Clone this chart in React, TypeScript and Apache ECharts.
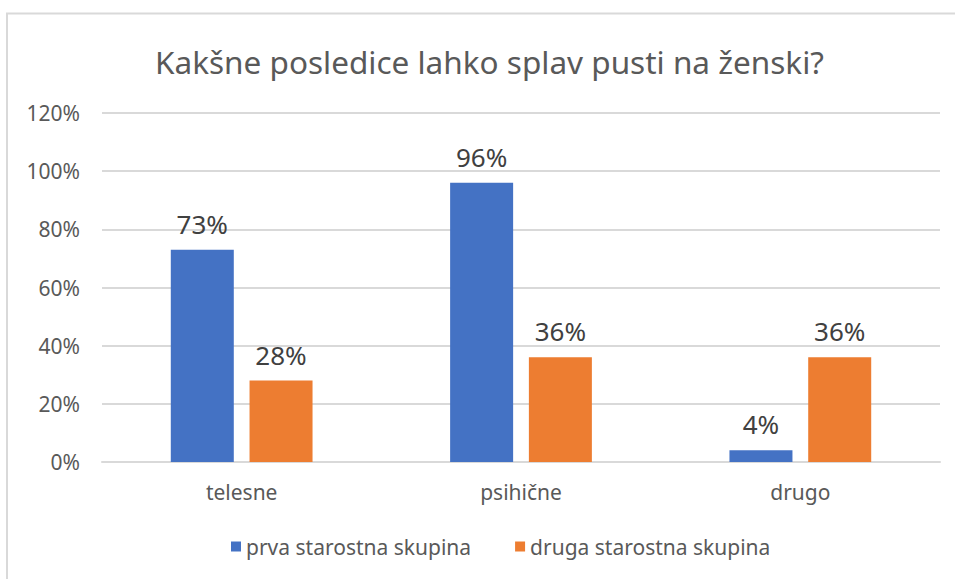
import React, { useEffect, useRef } from "react";
import * as echarts from "echarts";

const TITLE = "Kakšne posledice lahko splav pusti na ženski?";
const CATEGORIES = ["telesne", "psihične", "drugo"];
const SERIES_NAMES = ["prva starostna skupina", "druga starostna skupina"];
const PRVA = [73, 96, 4];
const DRUGA = [28, 36, 36];
const COLORS = ["#4472C4", "#ED7D31"];

export default function App() {
  const ref = useRef<HTMLDivElement>(null);
  useEffect(() => {
    document.body.style.margin = "0";
    const chart = echarts.init(ref.current!, undefined, { renderer: "svg" });
    const font = "Noto Sans";
    const labelCfg = {
      show: true,
      position: "top",
      distance: 13,
      formatter: "{c}%",
      color: "#404040",
      fontSize: 26,
      fontFamily: font,
    };
    chart.setOption({
      animation: false,
      backgroundColor: "#ffffff",
      graphic: [
        {
          type: "rect",
          shape: { x: 7, y: 13.5, width: 2000, height: 2000 },
          style: { fill: "none", stroke: "#d9d9d9", lineWidth: 2 },
          silent: true,
        },
      ],
      title: {
        text: TITLE,
        left: 150,
        top: 40,
        textStyle: {
          color: "#595959",
          fontSize: 31.5,
          fontWeight: "normal",
          fontFamily: font,
        },
      },
      legend: {
        bottom: 17,
        left: 226,
        itemWidth: 10,
        itemHeight: 10,
        itemGap: 44,
        icon: "rect",
        textStyle: { color: "#595959", fontSize: 21, fontFamily: font },
        data: SERIES_NAMES,
      },
      grid: { left: 102, right: 15, top: 113, bottom: 117, containLabel: false },
      xAxis: {
        type: "category",
        data: CATEGORIES,
        axisLine: { show: true, lineStyle: { color: "#d9d9d9", width: 2 } },
        axisTick: { show: false },
        axisLabel: {
          color: "#595959",
          fontSize: 21,
          fontFamily: font,
          margin: 19,
        },
      },
      yAxis: {
        type: "value",
        min: 0,
        max: 120,
        interval: 20,
        axisLine: { show: false },
        axisTick: { show: false },
        splitLine: { lineStyle: { color: "#d9d9d9", width: 2 } },
        axisLabel: {
          formatter: "{value}%",
          color: "#595959",
          fontSize: 21,
          fontFamily: font,
          margin: 22,
        },
      },
      series: [
        {
          name: SERIES_NAMES[0],
          type: "bar",
          data: PRVA,
          barWidth: 63,
          barGap: "25%",
          itemStyle: { color: COLORS[0] },
          label: labelCfg,
        },
        {
          name: SERIES_NAMES[1],
          type: "bar",
          data: DRUGA,
          barWidth: 63,
          barGap: "25%",
          itemStyle: { color: COLORS[1] },
          label: labelCfg,
        },
      ],
    });
    return () => chart.dispose();
  }, []);
  return <div ref={ref} style={{ width: 955, height: 579 }} />;
}
